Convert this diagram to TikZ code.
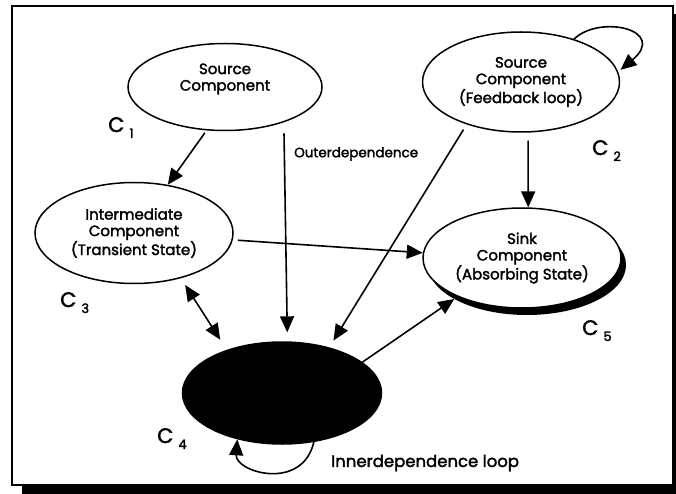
\documentclass[tikz,border=0pt]{standalone}
\usepackage{fontspec}
\setmainfont{Poppins}[FakeBold=2]
\usetikzlibrary{arrows.meta,shapes.geometric,shadows}
\newcommand{\ctag}[1]{C\kern5pt\raisebox{-6pt}{\fontsize{13}{13}\selectfont #1}}
\tikzset{
  comp/.style={ellipse, draw, line width=1.5pt, inner sep=0pt, align=center,
    font=\fontsize{15}{16.5}\selectfont},
  tag/.style={anchor=base west, inner sep=0pt, font=\fontsize{21}{21}\selectfont},
  link/.style={line width=1.6pt, -{Triangle[length=16pt,width=14pt]}},
}
\begin{document}
\begin{tikzpicture}[x=1pt,y=-1pt]
  \useasboundingbox (0,0) rectangle (676,494);
  % frame with its shadow
  \fill (22,14) rectangle (690,510);
  \draw[line width=2pt, fill=white] (12,6) rectangle (673,485);
  % components
  \node[comp, minimum width=194pt, minimum height=87pt] (c1) at (225,87) {};
  \node[align=center, font=\fontsize{15}{16.5}\selectfont] (t1) at (225,79) {Source\\Component};
  \node[comp, minimum width=197pt, minimum height=100pt] (c2) at (521,82)
    {Source\\Component\\(Feedback loop)};
  \node[comp, minimum width=198pt, minimum height=101pt] (c3) at (134,233)
    {Intermediate\\Component\\(Transient State)};
  \node[comp, fill=black, minimum width=199pt, minimum height=102pt] (c4) at (282,393) {};
  \node[comp, fill=white, minimum width=198pt, minimum height=100pt,
    drop shadow={shadow xshift=5pt, shadow yshift=-7pt, opacity=1, fill=black}] (c5) at (522,258)
    {Sink\\Component\\(Absorbing State)};
  % names
  \node[tag] (n1) at (108,132) {\ctag{1}};
  \node[tag] (n2) at (592,155) {\ctag{2}};
  \node[tag] (n3) at (60,307) {\ctag{3}};
  \node[tag] (n4) at (157,443) {\ctag{4}};
  \node[tag] (n5) at (582,335) {\ctag{5}};
  \node[anchor=west, inner sep=0pt, font=\fontsize{13.5}{13.5}\selectfont] (outer) at (294,154) {Outerdependence};
  \node[anchor=west, inner sep=0pt, font=\fontsize{16.5}{16.5}\selectfont] (inner) at (331,463) {Innerdependence loop};
  % dependences
  \begin{scope}[link]
    \draw[shorten <=3pt] (c1.247) -- (c3.55);
    \draw[shorten <=11pt, shorten >=9pt] (c1.329) -- (c4.84);
    \draw[shorten <=6pt, shorten >=8pt] (c2.218) -- (c4.44);
    \draw[shorten <=8pt] (c2.278) -- (c5.83);
    \draw[shorten <=5pt] (c3.356) -- (c5.177);
    \draw[{Triangle[length=16pt,width=14pt]}-{Triangle[length=16pt,width=14pt]},
      shorten <=8pt, shorten >=12pt] (c3.316) -- (c4.142);
    \draw[shorten >=4pt] (c4.21) -- (c5.211);
    \draw[shorten >=3pt] (c2.39) .. controls (600,14) and (668,30) .. (c2.6);
    \draw (c4.303) .. controls (302,492) and (235,472) .. (c4.226);
  \end{scope}
\end{tikzpicture}
\end{document}
